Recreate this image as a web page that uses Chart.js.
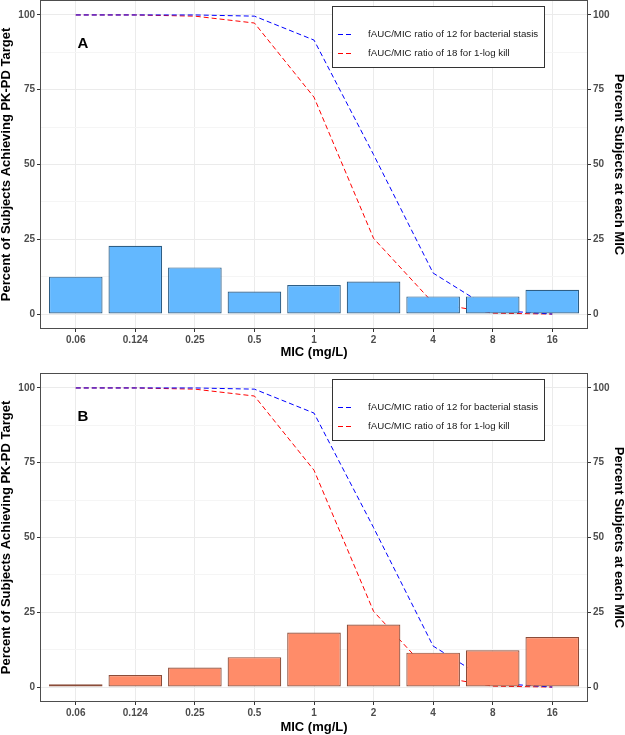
<!DOCTYPE html>
<html lang="en">
<head>
  <meta charset="UTF-8" />
  <title>Probability of Target Attainment by MIC</title>
  <script src="https://cdn.jsdelivr.net/npm/chart.js"></script>
  <style>
    body { margin: 0; background: #fff; }
    .panel { position: absolute; left: 0; }
    #panelA { top: 0; }
    #panelB { top: 360px; }
  </style>
</head>
<body>
  <div class="panel" id="panelA"><canvas id="chartA" width="625" height="360"></canvas></div>
  <div class="panel" id="panelB"><canvas id="chartB" width="625" height="375"></canvas></div>

  <script>
    // MIC categories (mg/L)
    const micLabels = ['0.06', '0.124', '0.25', '0.5', '1', '2', '4', '8', '16'];

    // PTA curves, same in both panels
    const stasisPTA = [100, 100, 100, 99.6, 91.6, 53.3, 13.7, 1.3, 0];
    const killPTA = [100, 100, 99.6, 97.3, 72.5, 25.3, 3.7, 0.3, 0];

    // Percent of subjects at each MIC
    const subjectsA = [12.5, 22.8, 15.6, 7.5, 9.7, 10.9, 5.9, 5.9, 8.1];
    const subjectsB = [0.9, 4.0, 6.5, 10.0, 18.2, 20.9, 11.5, 12.3, 16.7];

    // y ticks (labels only on the major ones)
    const yTicks = [0, 12.5, 25, 37.5, 50, 62.5, 75, 87.5, 100];
    const yLabelled = [0, 25, 50, 75, 100];

    Chart.defaults.font.family = '"Liberation Sans", Arial, sans-serif';
    Chart.defaults.color = '#4D4D4D';

    const toPoints = vals => vals.map((v, i) => ({ x: i, y: v }));
    const isMajor = ctx => ctx.tick && yLabelled.includes(ctx.tick.value);

    // panel border, letter tag and the legend box
    const panelDecor = {
      id: 'panelDecor',
      afterDraw(chart, args, opts) {
        const { ctx, chartArea: a, scales: { x, y } } = chart;
        ctx.save();

        ctx.strokeStyle = '#4D4D4D';
        ctx.lineWidth = 1;
        ctx.strokeRect(a.left + 0.5, a.top + 0.5, a.right - a.left - 1, a.bottom - a.top - 1);

        ctx.fillStyle = '#000';
        ctx.font = 'bold 15px "Liberation Sans", Arial, sans-serif';
        ctx.textAlign = 'center';
        ctx.textBaseline = 'middle';
        ctx.fillText(opts.letter, x.getPixelForValue(0.12), y.getPixelForValue(90.3));

        const bx = a.left + 292, by = a.top + 6, bw = 212, bh = 61;
        ctx.fillStyle = '#fff';
        ctx.fillRect(bx, by, bw, bh);
        ctx.strokeStyle = '#333';
        ctx.strokeRect(bx + 0.5, by + 0.5, bw, bh);

        const lines = chart.data.datasets.filter(d => d.type === 'line');
        lines.forEach((d, i) => {
          const ry = Math.round(by + 27.5 + i * 19) + 0.5;
          ctx.setLineDash(d.borderDash);
          ctx.strokeStyle = d.borderColor;
          ctx.lineWidth = 1.2;
          ctx.beginPath();
          ctx.moveTo(bx + 6, ry);
          ctx.lineTo(bx + 20, ry);
          ctx.stroke();
          ctx.setLineDash([]);
          ctx.fillStyle = '#1A1A1A';
          ctx.font = '9.7px "Liberation Sans", Arial, sans-serif';
          ctx.textAlign = 'left';
          ctx.fillText(d.label, bx + 36, ry);
        });
        ctx.restore();
      }
    };

    function yAxis(position, titleText) {
      return {
        position: position,
        min: -5,
        max: 105,
        afterBuildTicks: s => { s.ticks = yTicks.map(v => ({ value: v })); },
        afterFit: s => {
          s.width = position === 'left' ? 40 : 37;
          s.paddingTop = 0;
          s.paddingBottom = 0;
        },
        ticks: {
          callback: v => (yLabelled.includes(v) ? v : ''),
          color: '#4D4D4D',
          font: { size: 10, weight: 'bold' },
          padding: 2
        },
        grid: {
          drawOnChartArea: position === 'left',
          color: ctx => (isMajor(ctx) ? '#EBEBEB' : '#F5F5F5'),
          tickLength: 3,
          tickColor: ctx => (isMajor(ctx) ? '#333' : 'rgba(0,0,0,0)')
        },
        border: { display: false },
        title: {
          display: true,
          text: titleText,
          color: '#000',
          font: { size: 13, weight: 'bold', lineHeight: 1 },
          padding: 0
        }
      };
    }

    function makeChart(canvasId, letter, subjects, fill, edge, topPad, xHeight) {
      const ctx = document.getElementById(canvasId).getContext('2d');
      return new Chart(ctx, {
        type: 'bar',
        data: {
          datasets: [
            {
              type: 'line',
              label: 'fAUC/MIC ratio of 12 for bacterial stasis',
              data: toPoints(stasisPTA),
              borderColor: '#0000FF',
              borderWidth: 1,
              borderDash: [5, 3],
              pointRadius: 0,
              tension: 0,
              fill: false,
              yAxisID: 'y',
              order: 1
            },
            {
              type: 'line',
              label: 'fAUC/MIC ratio of 18 for 1-log kill',
              data: toPoints(killPTA),
              borderColor: '#FF0000',
              borderWidth: 1,
              borderDash: [5, 3],
              pointRadius: 0,
              tension: 0,
              fill: false,
              yAxisID: 'y',
              order: 1
            },
            {
              type: 'bar',
              label: 'Percent Subjects at each MIC',
              data: toPoints(subjects),
              backgroundColor: fill,
              borderColor: edge,
              borderWidth: 1.2,
              borderSkipped: false,
              barPercentage: 0.9,
              categoryPercentage: 1,
              yAxisID: 'y2',
              order: 0
            }
          ]
        },
        options: {
          responsive: false,
          animation: false,
          layout: { padding: { top: topPad, left: 0, right: 0, bottom: 0 } },
          plugins: {
            legend: { display: false },
            tooltip: { enabled: false },
            panelDecor: { letter: letter }
          },
          scales: {
            x: {
              type: 'linear',
              min: -0.6,
              max: 8.6,
              offset: false,
              afterBuildTicks: s => { s.ticks = micLabels.map((_, i) => ({ value: i })); },
              afterFit: s => {
                s.height = xHeight;
                s.paddingLeft = 0;
                s.paddingRight = 0;
              },
              ticks: {
                callback: v => micLabels[v],
                color: '#4D4D4D',
                font: { size: 10, weight: 'bold' },
                padding: 2,
                maxRotation: 0,
                autoSkip: false
              },
              grid: { offset: false, color: '#EBEBEB', tickLength: 3, tickColor: '#333' },
              border: { display: false },
              title: {
                display: true,
                text: 'MIC (mg/L)',
                color: '#000',
                font: { size: 13, weight: 'bold', lineHeight: 1 },
                padding: { top: 0, bottom: 1 }
              }
            },
            y: yAxis('left', 'Percent of Subjects Achieving PK-PD Target'),
            y2: yAxis('right', 'Percent Subjects at each MIC')
          }
        },
        plugins: [panelDecor]
      });
    }

    makeChart('chartA', 'A', subjectsA, '#63B8FF', '#2E5E85', 0, 31);
    makeChart('chartB', 'B', subjectsB, '#FF8C69', '#8B4C39', 13, 33);
  </script>
</body>
</html>
